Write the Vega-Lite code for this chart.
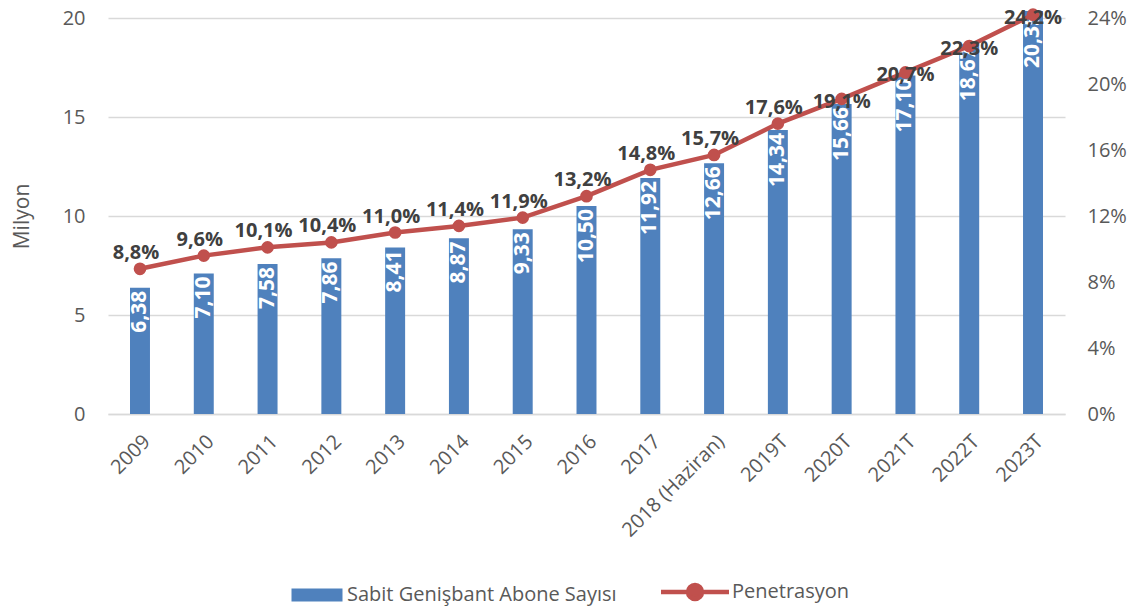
{
  "$schema": "https://vega.github.io/schema/vega-lite/v6.json",
  "width": 957,
  "height": 396,
  "autosize": {"type": "none"},
  "padding": {"left": 108, "right": 73, "top": 18, "bottom": 192},
  "data": {"values": [
    {"yil": "2009", "abone": 6.38, "pct": 0.088},
    {"yil": "2010", "abone": 7.10, "pct": 0.096},
    {"yil": "2011", "abone": 7.58, "pct": 0.101},
    {"yil": "2012", "abone": 7.86, "pct": 0.104},
    {"yil": "2013", "abone": 8.41, "pct": 0.110},
    {"yil": "2014", "abone": 8.87, "pct": 0.114},
    {"yil": "2015", "abone": 9.33, "pct": 0.119},
    {"yil": "2016", "abone": 10.50, "pct": 0.132},
    {"yil": "2017", "abone": 11.92, "pct": 0.148},
    {"yil": "2018 (Haziran)", "abone": 12.66, "pct": 0.157},
    {"yil": "2019T", "abone": 14.34, "pct": 0.176},
    {"yil": "2020T", "abone": 15.66, "pct": 0.191},
    {"yil": "2021T", "abone": 17.10, "pct": 0.207},
    {"yil": "2022T", "abone": 18.67, "pct": 0.223},
    {"yil": "2023T", "abone": 20.35, "pct": 0.242}
  ]},
  "encoding": {
    "x": {
      "field": "yil", "type": "nominal", "sort": null,
      "scale": {"paddingInner": 0.687, "paddingOuter": 0.345},
      "axis": {"title": null, "labelAngle": -45, "labelFontSize": 20, "labelColor": "#595959", "ticks": false, "domainColor": "#D9D9D9", "domainWidth": 1.5, "labelPadding": 17, "labelLimit": 300}
    }
  },
  "layer": [
    {
      "layer": [
        {
          "mark": {"type": "bar", "color": "#4F81BD"},
          "encoding": {
            "y": {"field": "abone", "type": "quantitative",
              "scale": {"domain": [0, 20], "nice": false},
              "axis": {"title": "Milyon", "titleFontSize": 21, "titleFontWeight": "normal", "titleColor": "#595959", "titlePadding": 30,
                "values": [0, 5, 10, 15, 20], "labelFontSize": 20, "labelColor": "#595959", "ticks": false, "domain": false,
                "gridColor": "#D9D9D9", "gridWidth": 1.5, "labelPadding": 23}},
            "color": {"datum": "Sabit Genişbant Abone Sayısı", "type": "nominal",
              "scale": {"domain": ["Sabit Genişbant Abone Sayısı", "Penetrasyon"], "range": ["#4F81BD", "#C0504D"]},
              "legend": {
                "title": null, "orient": "none", "legendX": 199, "legendY": 564, "direction": "horizontal",
                "labelFontSize": 20, "labelColor": "#595959", "labelLimit": 400, "symbolSize": 400, "columnPadding": 35, "labelOffset": 20,
                "encode": {"symbols": {"update": {
                  "shape": {"signal": "datum.value === 'Penetrasyon' ? 'M-4.1,0H2.7M0,0A0.7,0.7,0,1,1,-1.4,0A0.7,0.7,0,1,1,0,0' : 'M-2.55,-0.65H2.55V0.65H-2.55Z'"},
                  "strokeWidth": {"signal": "datum.value === 'Penetrasyon' ? 4.5 : 0"},
                  "fill": {"signal": "datum.value === 'Penetrasyon' ? '#C0504D' : '#4F81BD'"},
                  "stroke": {"signal": "datum.value === 'Penetrasyon' ? '#C0504D' : '#4F81BD'"},
                  "opacity": {"value": 1}
                }}}
              }}
          }
        },
        {
          "mark": {"type": "text", "angle": 270, "align": "right", "baseline": "middle", "dx": -3, "color": "white", "fontWeight": "bold", "fontSize": 21, "font": "Open Sans"},
          "encoding": {
            "y": {"field": "abone", "type": "quantitative"},
            "text": {"field": "abone", "type": "quantitative", "format": ".2f"}
          }
        }
      ]
    },
    {
      "layer": [
        {
          "mark": {"type": "line", "color": "#C0504D", "strokeWidth": 4.5, "point": {"filled": true, "size": 160, "color": "#C0504D", "opacity": 1}},
          "encoding": {
            "y": {"field": "pct", "type": "quantitative",
              "scale": {"domain": [0, 0.24], "nice": false},
              "axis": {"orient": "right", "title": null, "values": [0, 0.04, 0.08, 0.12, 0.16, 0.2, 0.24], "format": ".0%",
                "labelFontSize": 20, "labelColor": "#595959", "ticks": false, "domain": false, "grid": false, "labelPadding": 22}},
            "color": {"datum": "Penetrasyon", "type": "nominal"}
          }
        },
        {
          "transform": [{"filter": "datum.pct < 0.19"}],
          "mark": {"type": "text", "dy": -16, "dx": -4, "baseline": "middle", "color": "#404040", "fontWeight": "bold", "fontSize": 20, "font": "Open Sans"},
          "encoding": {
            "y": {"field": "pct", "type": "quantitative"},
            "text": {"field": "pct", "type": "quantitative", "format": ".1%"}
          }
        },
        {
          "transform": [{"filter": "datum.pct >= 0.19"}],
          "mark": {"type": "text", "dy": 3, "baseline": "middle", "color": "#404040", "fontWeight": "bold", "fontSize": 20, "font": "Open Sans"},
          "encoding": {
            "y": {"field": "pct", "type": "quantitative"},
            "text": {"field": "pct", "type": "quantitative", "format": ".1%"}
          }
        }
      ]
    }
  ],
  "resolve": {"scale": {"y": "independent"}},
  "config": {
    "view": {"stroke": null},
    "font": "Open Sans",
    "locale": {"number": {"decimal": ",", "thousands": ".", "grouping": [3], "currency": ["", " TL"]}}
  }
}
